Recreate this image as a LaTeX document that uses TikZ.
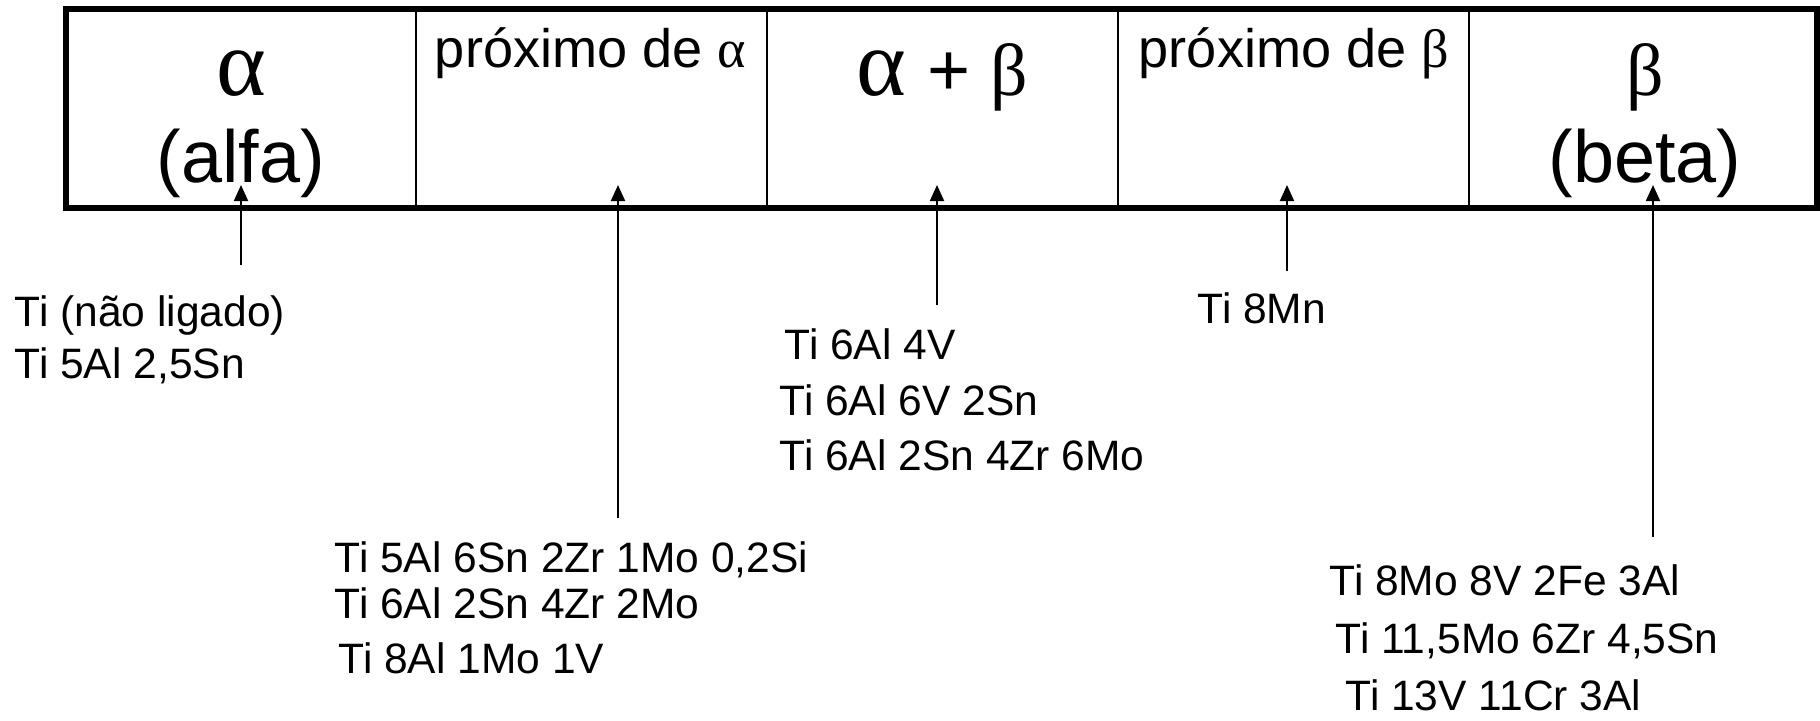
\documentclass[tikz,border=0pt]{standalone}
\usepackage{fontspec}
\setmainfont{Liberation Sans}
\newfontfamily\grk{Liberation Serif}
\usetikzlibrary{arrows.meta}
\tikzset{
  frame/.style={line width=0.6mm},
  divider/.style={line width=0.18mm},
  pointer/.style={line width=0.2mm,-{Triangle[width=1.4mm,length=1.6mm]}},
  big/.style={font=\fontsize{21pt}{24pt}\selectfont, inner sep=0pt, anchor=base},
  mid/.style={font=\fontsize{15.4pt}{18pt}\selectfont, inner sep=0pt, anchor=base},
  alloy/.style={font=\fontsize{12.1pt}{14pt}\selectfont, inner sep=0pt, anchor=base west},
}
\begin{document}
\begin{tikzpicture}[x=0.1mm,y=-0.1mm]
\useasboundingbox (0,0) rectangle (1820,720);
% frame and dividers
\draw[frame] (66,9) rectangle (1817,207.5);
\foreach \xx in {416,767,1118,1469}
  \draw[divider] (\xx,9) -- (\xx,207.5);
% cell headings
\node[big] (a1) at (241,95) {\grk\fontsize{27pt}{30pt}\selectfont α};
\node[big] (a2) at (241,182) {(alfa)};
\node[mid] (b1) at (590.5,67) {próximo de {\grk α}};
\node[big] (c1) at (942.5,95) {{\grk\fontsize{27pt}{30pt}\selectfont α} + {\grk β}};
\node[mid] (d1) at (1294,67) {próximo de {\grk β}};
\node[big] (e1) at (1645,95) {\grk β};
\node[big] (e2) at (1645,182) {(beta)};
% alloy lists
\node[alloy] (t1) at (14,326) {Ti (não ligado)};
\node[alloy] (t2) at (14,378) {Ti 5Al 2,5Sn};
\node[alloy] (n1) at (334,572) {Ti 5Al 6Sn 2Zr 1Mo 0,2Si};
\node[alloy] (n2) at (334,618) {Ti 6Al 2Sn 4Zr 2Mo};
\node[alloy] (n3) at (338,673) {Ti 8Al 1Mo 1V};
\node[alloy] (m1) at (784,359) {Ti 6Al 4V};
\node[alloy] (m2) at (779,415) {Ti 6Al 6V 2Sn};
\node[alloy] (m3) at (779,470) {Ti 6Al 2Sn 4Zr 6Mo};
\node[alloy] (p1) at (1197,323) {Ti 8Mn};
\node[alloy] (q1) at (1329,595) {Ti 8Mo 8V 2Fe 3Al};
\node[alloy] (q2) at (1335,653) {Ti 11,5Mo 6Zr 4,5Sn};
\node[alloy] (q3) at (1345,710) {Ti 13V 11Cr 3Al};
% pointers
\coordinate (s1) at (241,265);  \coordinate (h1) at (241,185);
\coordinate (s2) at (618,518);  \coordinate (h2) at (618,185);
\coordinate (s3) at (937,305);  \coordinate (h3) at (937,185);
\coordinate (s4) at (1287,271); \coordinate (h4) at (1287,185);
\coordinate (s5) at (1653,537); \coordinate (h5) at (1653,185);
\foreach \i in {1,...,5} \draw[pointer] (s\i) -- (h\i);
\end{tikzpicture}
\end{document}
